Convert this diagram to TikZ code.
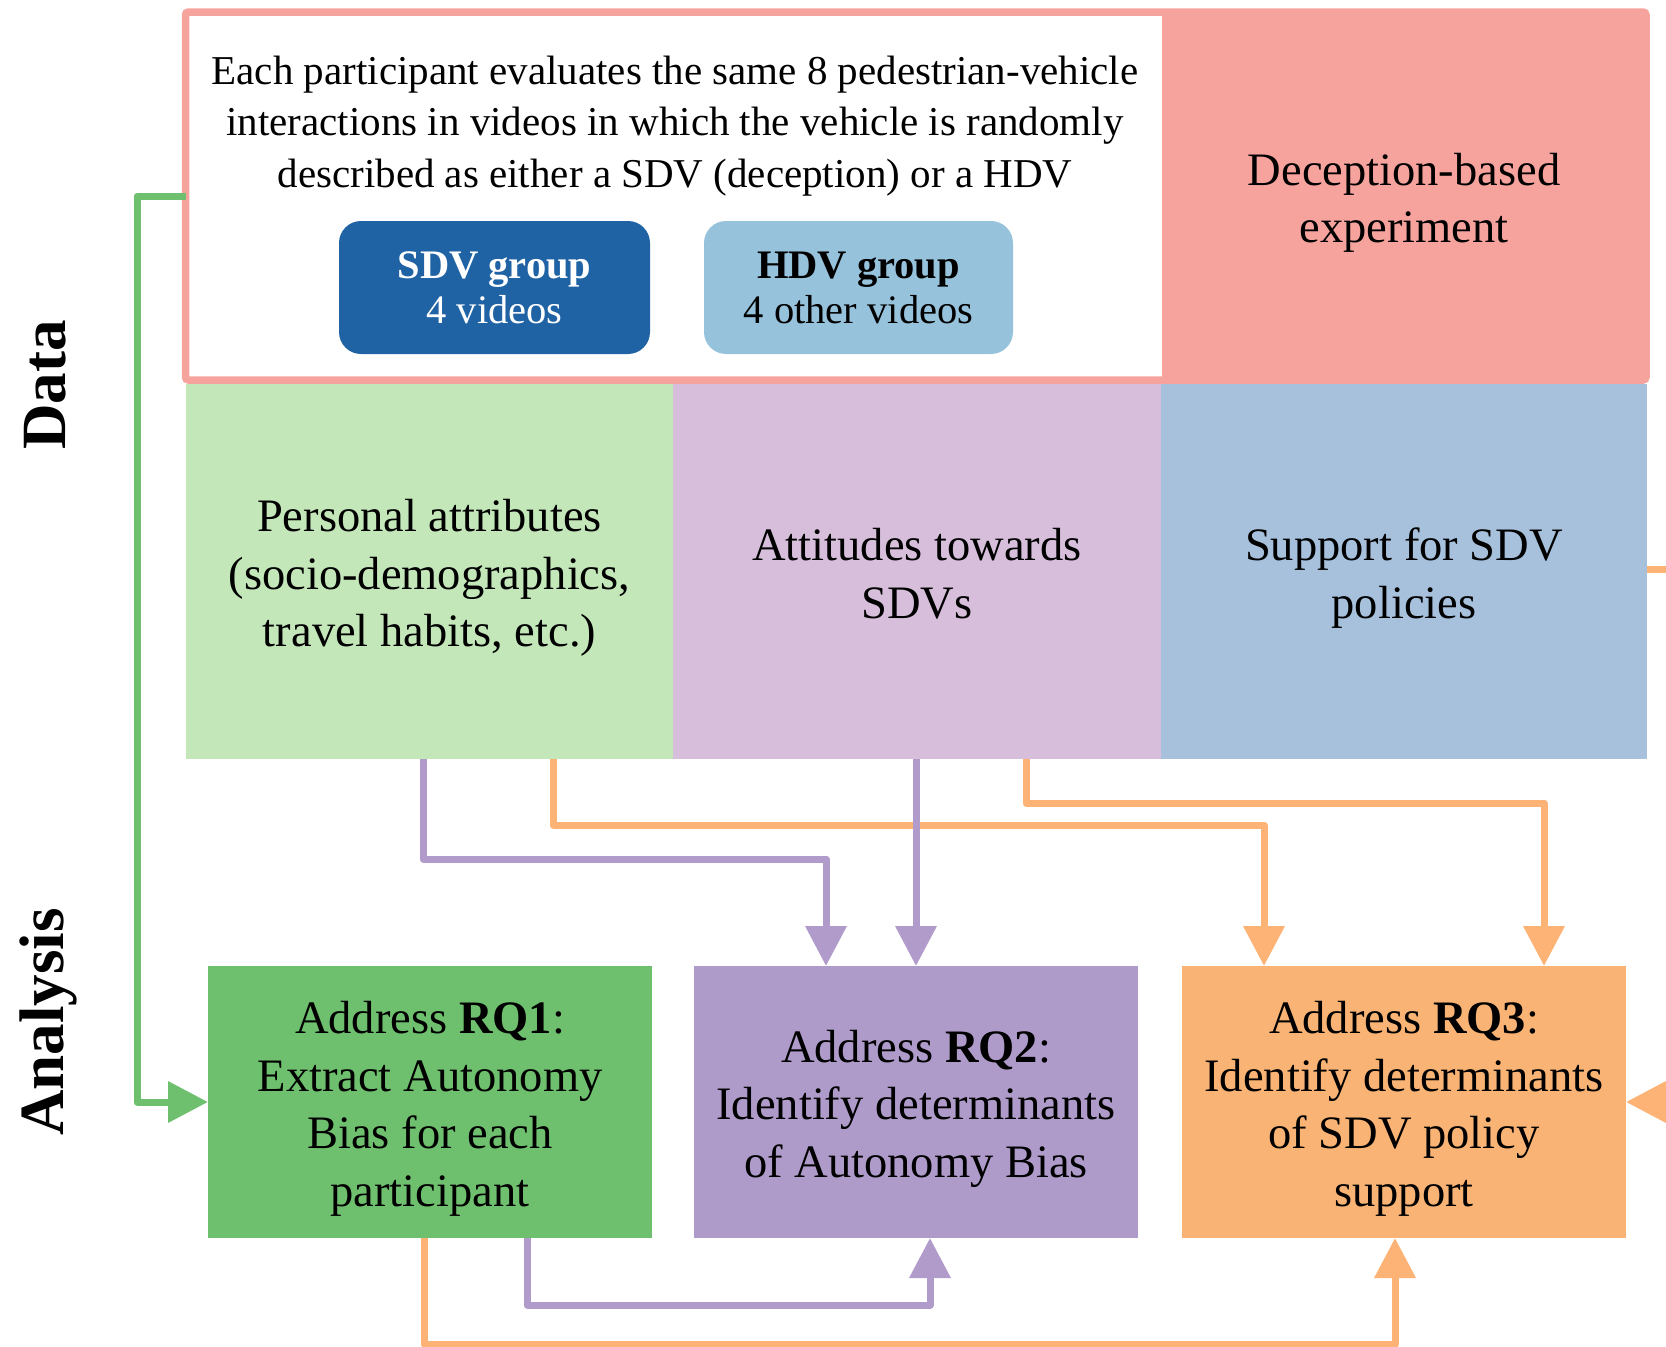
\documentclass[tikz,border=0pt]{standalone}
\usepackage{fontspec}
\setmainfont{Liberation Serif}
\usetikzlibrary{arrows.meta}

\definecolor{pinkframe}{RGB}{247,163,157}
\definecolor{datagreen}{RGB}{195,231,185}
\definecolor{datapurple}{RGB}{215,191,220}
\definecolor{datablue}{RGB}{167,193,221}
\definecolor{sdvblue}{RGB}{31,99,165}
\definecolor{hdvblue}{RGB}{150,194,220}
\definecolor{rqgreen}{RGB}{111,192,110}
\definecolor{rqpurple}{RGB}{175,155,202}
\definecolor{rqorange}{RGB}{249,179,116}
\definecolor{linkgreen}{RGB}{111,192,110}
\definecolor{linkpurple}{RGB}{176,155,203}
\definecolor{linkorange}{RGB}{253,179,118}

% fixed line boxes: a tall first line and a shallow last line
\newcommand\firstlinestrut{\rule{0pt}{46pt}}
\newcommand\lastlinestrut{\rule[-10.4pt]{0pt}{10.4pt}}

\begin{document}
\begin{tikzpicture}[x=1pt,y=-1pt,
  cell/.style={inner sep=0pt, outer sep=0pt, align=center,
    font=\fontsize{46.5}{57.5}\selectfont},
  groupbox/.style={rounded corners=22pt, inner sep=0pt, outer sep=0pt, align=center,
    minimum height=133pt, font=\fontsize{40.5}{45}\selectfont},
  sidelabel/.style={rotate=90, inner sep=0pt, font=\bfseries\fontsize{63}{63}\selectfont},
  link/.style={line width=7pt, line join=round,
    -{Triangle[length=40pt,width=40pt]}}
]
\useasboundingbox (0,0) rectangle (1666,1347);
\clip (0,0) rectangle (1666,1347);

% Side labels
\node[sidelabel] (dataLbl) at (45,385) {Data};
\node[sidelabel] (analysisLbl) at (48,1022) {Analysis};

% Experiment block
\node[cell, fill=pinkframe, anchor=north west, minimum width=484pt, minimum height=368pt]
  (exp) at (1162,12) {\firstlinestrut Deception-based\\experiment\lastlinestrut};
\node[draw=pinkframe, line width=7.5pt, rounded corners=3pt, inner sep=0pt, outer sep=0pt,
  anchor=north west, minimum width=1460.5pt, minimum height=368pt] (frame) at (185.5,12) {};
\node[align=center, inner sep=0pt, font=\fontsize{41}{51.5}\selectfont] (desc) at (675,126)
  {Each participant evaluates the same 8 pedestrian-vehicle\\
   interactions in videos in which the vehicle is randomly\\
   described as either a SDV (deception) or a HDV};
\node[groupbox, fill=sdvblue, text=white, minimum width=311pt] (sdv) at (494.5,287.5)
  {\textbf{SDV group}\\4 videos};
\node[groupbox, fill=hdvblue, text=black, minimum width=309pt] (hdv) at (858.5,287.5)
  {\textbf{HDV group}\\4 other videos};

% Data row
\node[cell, fill=datagreen, anchor=north west, minimum width=487pt, minimum height=375pt]
  (dGreen) at (186,384)
  {\firstlinestrut Personal attributes\\(socio-demographics,\\travel habits, etc.)\lastlinestrut};
\node[cell, fill=datapurple, anchor=north west, minimum width=488pt, minimum height=375pt]
  (dPurple) at (673,384) {\firstlinestrut Attitudes towards\\SDVs\lastlinestrut};
\node[cell, fill=datablue, anchor=north west, minimum width=486pt, minimum height=375pt]
  (dBlue) at (1161,384) {\firstlinestrut Support for SDV\\policies\lastlinestrut};

% Analysis row
\node[cell, fill=rqgreen, anchor=north west, minimum width=444pt, minimum height=272pt]
  (rq1) at (208,966)
  {\firstlinestrut Address \textbf{RQ1}:\\Extract Autonomy\\Bias for each\\participant\lastlinestrut};
\node[cell, fill=rqpurple, anchor=north west, minimum width=444pt, minimum height=272pt]
  (rq2) at (694,966)
  {\firstlinestrut Address \textbf{RQ2}:\\Identify determinants\\of Autonomy Bias\lastlinestrut};
\node[cell, fill=rqorange, anchor=north west, minimum width=444pt, minimum height=272pt]
  (rq3) at (1182,966)
  {\firstlinestrut Address \textbf{RQ3}:\\Identify determinants\\of SDV policy\\support\lastlinestrut};

% Connectors
\draw[link, linkgreen] (frame.west) -- (137,196) -- (137,1102) -- (rq1.west);

\draw[link, linkorange] (553,0 |- dGreen.south) -- (553,825) -- (1264,825) -- (1264,0 |- rq3.north);
\draw[link, linkorange] (1026,0 |- dPurple.south) -- (1026,803) -- (1544,803) -- (1544,0 |- rq3.north);
\draw[link, linkorange] (dBlue.east |- 0,569) -- (1720,569) -- (1720,1102) -- (rq3.east);
\draw[link, linkorange] (424,0 |- rq1.south) -- (424,1344) -- (1395,1344) -- (1395,0 |- rq3.south);

\draw[link, linkpurple] (423,0 |- dGreen.south) -- (423,859) -- (826,859) -- (826,0 |- rq2.north);
\draw[link, linkpurple] (916,0 |- dPurple.south) -- (916,0 |- rq2.north);
\draw[link, linkpurple] (527,0 |- rq1.south) -- (527,1305) -- (930,1305) -- (930,0 |- rq2.south);
\end{tikzpicture}
\end{document}
